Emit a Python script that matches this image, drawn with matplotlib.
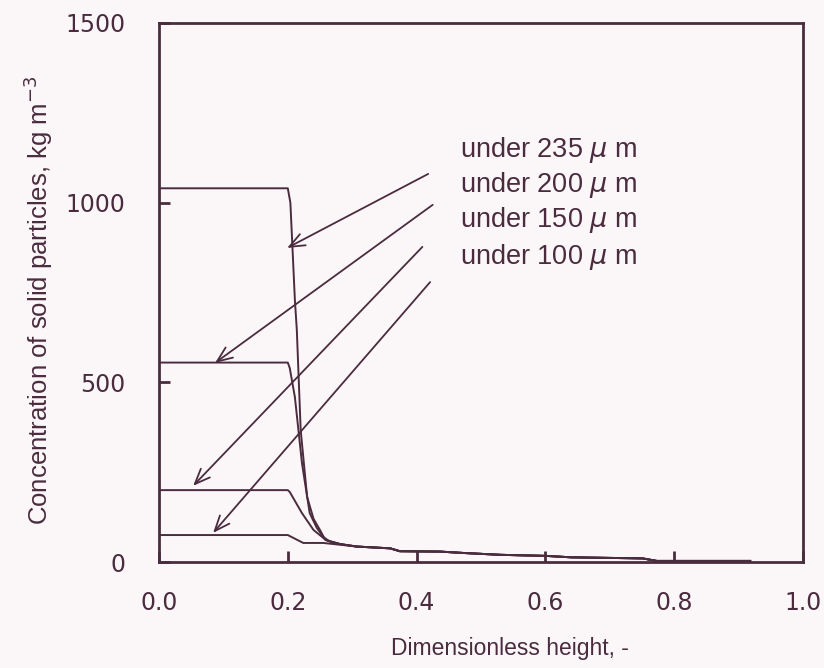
import matplotlib
matplotlib.use("Agg")
import matplotlib.pyplot as plt

# ---- data ----
x_235 = [0.0, 0.200, 0.204, 0.211, 0.214, 0.220, 0.230, 0.240, 0.250, 0.258, 0.281, 0.307, 0.359, 0.374, 0.436, 0.474, 0.530, 0.601, 0.640, 0.751, 0.773, 0.918]
y_235 = [1040, 1040, 1000, 729, 646, 367, 181, 120, 89, 62, 50, 43, 38, 30, 29, 25, 20, 17, 13, 10, 3, 3]

x_200 = [0.0, 0.200, 0.203, 0.211, 0.222, 0.234, 0.245, 0.255, 0.265, 0.281, 0.307, 0.359, 0.374, 0.436, 0.474, 0.530, 0.601, 0.640, 0.751, 0.773, 0.918]
y_200 = [555, 555, 540, 459, 275, 136, 95, 70, 57, 50, 43, 38, 30, 29, 25, 20, 17, 13, 10, 3, 3]

x_150 = [0.0, 0.200, 0.203, 0.222, 0.240, 0.260, 0.281, 0.307, 0.359, 0.374, 0.436, 0.474, 0.530, 0.601, 0.640, 0.751, 0.773, 0.918]
y_150 = [200, 200, 195, 136, 89, 60, 50, 43, 38, 30, 29, 25, 20, 17, 13, 10, 3, 3]

x_100 = [0.0, 0.200, 0.224, 0.255, 0.281, 0.307, 0.359, 0.374, 0.436, 0.474, 0.530, 0.601, 0.640, 0.751, 0.773, 0.918]
y_100 = [75, 75, 53, 53, 48, 43, 38, 30, 29, 25, 20, 17, 13, 10, 3, 3]

labels = ["under 235 $\\mu$ m", "under 200 $\\mu$ m", "under 150 $\\mu$ m", "under 100 $\\mu$ m"]
label_y = [1147, 1049, 952, 849]
arrow_tail_x = [0.418, 0.425, 0.409, 0.421]
arrow_tail_y = [1080, 994, 877, 779]
arrow_tip_x = [0.199, 0.087, 0.053, 0.084]
arrow_tip_y = [874, 554, 212, 81]

xticks = [0.0, 0.2, 0.4, 0.6, 0.8, 1.0]
xticklabels = ["0.0", "0.2", "0.4", "0.6", "0.8", "1.0"]
yticks = [0, 500, 1000, 1500]
yticklabels = ["0", "500", "1000", "1500"]

# ---- style ----
ink = "#4a2c3e"
bg = "#fbf7f9"
plt.rcParams["mathtext.fontset"] = "dejavusans"

W, H = 824, 668
fig = plt.figure(figsize=(W / 100, H / 100), dpi=100, facecolor=bg)
ax = fig.add_axes([159 / W, 1 - 562 / H, (803 - 159) / W, (562 - 23) / H])
ax.set_facecolor(bg)

for xs, ys in [(x_235, y_235), (x_200, y_200), (x_150, y_150), (x_100, y_100)]:
    ax.plot(xs, ys, color=ink, lw=1.4)

for lab, ly in zip(labels, label_y):
    ax.text(0.467, ly, lab, color=ink, fontsize=19.5, family="Liberation Sans",
            va="center", ha="left")

for tx, ty, hx, hy in zip(arrow_tail_x, arrow_tail_y, arrow_tip_x, arrow_tip_y):
    ax.annotate("", xy=(hx, hy), xytext=(tx, ty),
                arrowprops=dict(arrowstyle="->,head_length=1.1,head_width=0.45",
                                color=ink, lw=1.3, shrinkA=0, shrinkB=0))

ax.set_xlim(0, 1)
ax.set_ylim(0, 1500)
ax.set_xticks(xticks)
ax.set_xticklabels(xticklabels)
ax.set_yticks(yticks)
ax.set_yticklabels(yticklabels)
ax.tick_params(direction="in", length=8, width=2, color=ink, labelcolor=ink,
               labelsize=17)
ax.tick_params(axis="x", pad=21)
ax.tick_params(axis="y", pad=24)
for t in ax.get_xticklabels() + ax.get_yticklabels():
    t.set_family("DejaVu Sans")
for s in ax.spines.values():
    s.set_color(ink)
    s.set_linewidth(2)

fig.text(510 / W, 1 - 648 / H, "Dimensionless height, -", color=ink,
         fontsize=16.5, family="Liberation Sans", ha="center", va="center")
fig.text(38 / W, 1 - 300 / H, "Concentration of solid particles, kg m$^{-3}$",
         color=ink, fontsize=18.5, family="Liberation Sans", rotation=90,
         ha="center", va="center")

fig.savefig("out.png", dpi=100, facecolor=bg)
